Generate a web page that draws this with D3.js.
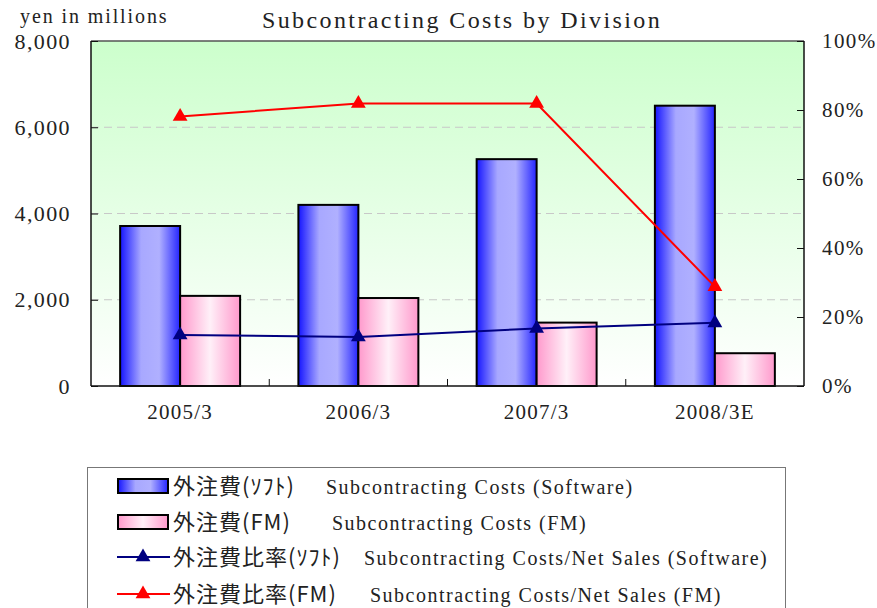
<!DOCTYPE html>
<html>
<head>
<meta charset="utf-8">
<script src="https://cdn.jsdelivr.net/npm/d3@7"></script>
<style>
  html, body { margin: 0; padding: 0; background: #fff; }
  svg text { font-family: "Liberation Serif", "Noto Sans CJK JP", serif; fill: #222; }
  svg text.jp { font-family: "Noto Sans CJK JP", sans-serif; }
</style>
</head>
<body>
<svg id="chart" width="877" height="608"></svg>
<script>
// Fiscal periods and values (yen in millions / percent of net sales)
const categories = ["2005/3", "2006/3", "2007/3", "2008/3E"];
const softwareCosts = [3710, 4200, 5260, 6500];
const fmCosts = [2090, 2040, 1470, 760];
const softwareRatio = [14.8, 14.2, 16.7, 18.3];
const fmRatio = [78.1, 81.9, 81.9, 28.8];

const leftTicks = [0, 2000, 4000, 6000, 8000];
const rightTicks = [0, 20, 40, 60, 80, 100];

const legendItems = [
  { jp: "外注費(ｿﾌﾄ)", en: "Subcontracting Costs (Software)", kind: "bar", fill: "url(#gradBlue)", color: "#000080", enX: 326 },
  { jp: "外注費(FM)", en: "Subcontracting Costs (FM)", kind: "bar", fill: "url(#gradPink)", color: "#ff0000", enX: 332 },
  { jp: "外注費比率(ｿﾌﾄ)", en: "Subcontracting Costs/Net Sales (Software)", kind: "line", color: "#000080", enX: 364 },
  { jp: "外注費比率(FM)", en: "Subcontracting Costs/Net Sales (FM)", kind: "line", color: "#ff0000", enX: 370 }
];

const svg = d3.select("#chart");
const plot = { left: 91, right: 804, top: 41, bottom: 386 };

// Gradients
const defs = svg.append("defs");
const bg = defs.append("linearGradient").attr("id", "gradBg")
  .attr("x1", 0).attr("y1", 0).attr("x2", 0).attr("y2", 1);
bg.append("stop").attr("offset", "0%").attr("stop-color", "#ccffcc");
bg.append("stop").attr("offset", "100%").attr("stop-color", "#ffffff");

const blue = defs.append("linearGradient").attr("id", "gradBlue")
  .attr("x1", 0).attr("y1", 0).attr("x2", 1).attr("y2", 0);
[["0%", "#1515ff"], ["35%", "#a8a8ff"], ["65%", "#b0b0ff"], ["100%", "#2525ff"]]
  .forEach(([o, c]) => blue.append("stop").attr("offset", o).attr("stop-color", c));

const pink = defs.append("linearGradient").attr("id", "gradPink")
  .attr("x1", 0).attr("y1", 0).attr("x2", 1).attr("y2", 0);
[["0%", "#ff99cc"], ["50%", "#fff0f8"], ["100%", "#ff99cc"]]
  .forEach(([o, c]) => pink.append("stop").attr("offset", o).attr("stop-color", c));

// Scales
const x = d3.scaleBand().domain(categories)
  .range([plot.left, plot.right]).paddingInner(0.327).paddingOuter(0.1635);
const xs = d3.scaleBand().domain(["soft", "fm"]).range([0, x.bandwidth()]);
const yL = d3.scaleLinear().domain([0, 8000]).range([plot.bottom, plot.top]);
const yR = d3.scaleLinear().domain([0, 100]).range([plot.bottom, plot.top]);

// Plot background
svg.append("rect")
  .attr("x", plot.left).attr("y", plot.top)
  .attr("width", plot.right - plot.left).attr("height", plot.bottom - plot.top)
  .attr("fill", "url(#gradBg)");

// Dashed gridlines at the left-axis ticks
svg.append("g").selectAll("line")
  .data(leftTicks.filter(d => d > 0 && d < 8000))
  .join("line")
  .attr("x1", plot.left).attr("x2", plot.right)
  .attr("y1", d => yL(d)).attr("y2", d => yL(d))
  .attr("stroke", "#c8c8c8").attr("stroke-width", 1.2)
  .attr("stroke-dasharray", "8,5");

// Bars
const groups = svg.append("g").selectAll("g")
  .data(categories.map((c, i) => ({ c, soft: softwareCosts[i], fm: fmCosts[i] })))
  .join("g")
  .attr("transform", d => `translate(${x(d.c)},0)`);

groups.append("rect")
  .attr("x", xs("soft")).attr("width", xs.bandwidth())
  .attr("y", d => yL(d.soft)).attr("height", d => yL(0) - yL(d.soft))
  .attr("fill", "url(#gradBlue)").attr("stroke", "#000").attr("stroke-width", 2);

groups.append("rect")
  .attr("x", xs("fm")).attr("width", xs.bandwidth())
  .attr("y", d => yL(d.fm)).attr("height", d => yL(0) - yL(d.fm))
  .attr("fill", "url(#gradPink)").attr("stroke", "#000").attr("stroke-width", 2);

// Frame and axes
svg.append("line").attr("x1", plot.left).attr("x2", plot.right)
  .attr("y1", plot.top).attr("y2", plot.top).attr("stroke", "#555").attr("stroke-width", 1.5);
svg.append("line").attr("x1", plot.left).attr("x2", plot.left)
  .attr("y1", plot.top).attr("y2", plot.bottom).attr("stroke", "#111").attr("stroke-width", 1.5);
svg.append("line").attr("x1", plot.right).attr("x2", plot.right)
  .attr("y1", plot.top).attr("y2", plot.bottom).attr("stroke", "#111").attr("stroke-width", 1.5);

const axisLeft = d3.axisLeft(yL).tickValues(leftTicks).tickSize(-7).tickPadding(20)
  .tickFormat(d3.format(","));
const gl = svg.append("g").attr("transform", `translate(${plot.left},0)`).call(axisLeft);
gl.select(".domain").remove();
gl.selectAll("text").attr("font-size", 22).attr("letter-spacing", 1.4).attr("fill", "#222");
gl.selectAll("line").attr("stroke", "#111");

const axisRight = d3.axisRight(yR).tickValues(rightTicks).tickSize(-7).tickPadding(18)
  .tickFormat(d => d + "%");
const gr = svg.append("g").attr("transform", `translate(${plot.right},0)`).call(axisRight);
gr.select(".domain").remove();
gr.selectAll("text").attr("font-size", 21).attr("letter-spacing", 1.4).attr("fill", "#222");
gr.selectAll("line").attr("stroke", "#111");

// Bottom axis with category dividers
svg.append("line").attr("x1", plot.left).attr("x2", plot.right)
  .attr("y1", plot.bottom).attr("y2", plot.bottom).attr("stroke", "#111").attr("stroke-width", 1.5);
svg.append("g").selectAll("line")
  .data(categories.slice(1))
  .join("line")
  .attr("x1", d => x(d) - x.step() * x.paddingInner() / 2)
  .attr("x2", d => x(d) - x.step() * x.paddingInner() / 2)
  .attr("y1", plot.bottom).attr("y2", plot.bottom - 7)
  .attr("stroke", "#111");
svg.append("g").selectAll("text")
  .data(categories)
  .join("text")
  .attr("x", d => x(d) + x.bandwidth() / 2)
  .attr("y", 419)
  .attr("text-anchor", "middle")
  .attr("font-size", 21)
  .attr("letter-spacing", 1.2)
  .text(d => d);

// Ratio lines with triangle markers
const tri = d3.symbol().type(d3.symbolTriangle).size(95);
function drawRatio(values, color) {
  const pts = values.map((v, i) => [x(categories[i]) + x.bandwidth() / 2, yR(v)]);
  svg.append("path")
    .attr("d", d3.line()(pts))
    .attr("fill", "none").attr("stroke", color).attr("stroke-width", 2);
  svg.append("g").selectAll("path")
    .data(pts)
    .join("path")
    .attr("d", tri)
    .attr("transform", d => `translate(${d[0]},${d[1]})`)
    .attr("fill", color);
}
drawRatio(softwareRatio, "#000080");
drawRatio(fmRatio, "#ff0000");

// Titles
svg.append("text").attr("x", 462).attr("y", 28).attr("text-anchor", "middle")
  .attr("font-size", 24).attr("letter-spacing", 2.4).text("Subcontracting Costs by Division");
svg.append("text").attr("x", 20).attr("y", 23)
  .attr("font-size", 20).attr("letter-spacing", 1.9).text("yen in millions");

// Legend
svg.append("rect").attr("x", 87.5).attr("y", 467.5).attr("width", 698).attr("height", 160)
  .attr("fill", "#fff").attr("stroke", "#777").attr("stroke-width", 1);

const rowY = [486, 522, 557, 594];
const lg = svg.append("g").selectAll("g").data(legendItems).join("g")
  .attr("transform", (d, i) => `translate(0,${rowY[i]})`);

lg.filter(d => d.kind === "bar").append("rect")
  .attr("x", 118).attr("y", -7).attr("width", 50).attr("height", 14)
  .attr("fill", d => d.fill).attr("stroke", "#000").attr("stroke-width", 2);

lg.filter(d => d.kind === "line").append("line")
  .attr("x1", 117).attr("x2", 170).attr("y1", 0).attr("y2", 0)
  .attr("stroke", d => d.color).attr("stroke-width", 2);
lg.filter(d => d.kind === "line").append("path")
  .attr("d", tri).attr("transform", "translate(143,0)")
  .attr("fill", d => d.color);

lg.append("text").attr("class", "jp").attr("x", 173).attr("y", 8)
  .attr("font-size", 22).attr("letter-spacing", 1)
  .text(d => d.jp);
lg.append("text").attr("x", d => d.enX).attr("y", 8)
  .attr("font-size", 20).attr("letter-spacing", 1.5)
  .text(d => d.en);
</script>
</body>
</html>
